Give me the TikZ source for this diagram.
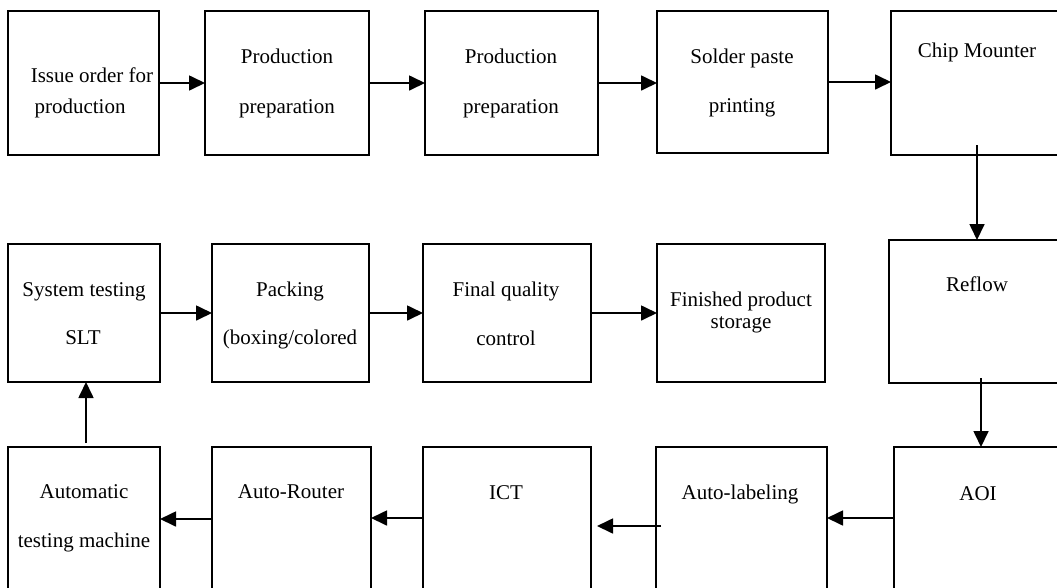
\documentclass[tikz,border=0pt]{standalone}
\usepackage{fontspec}
\setmainfont{Liberation Serif}
\usetikzlibrary{arrows.meta}
\tikzset{
  box/.style={draw=black, line width=1.7pt, rectangle, inner sep=0pt, outer sep=0pt},
  lbl/.style={anchor=base, inner sep=0pt, font=\fontsize{21}{25}\selectfont},
  arr/.style={line width=1.7pt, -{Triangle[length=16pt,width=15pt]}},
}
\begin{document}
\begin{tikzpicture}[x=1pt,y=-1pt]
\useasboundingbox (0,0) rectangle (1057,587);
\clip (0,0) rectangle (1057,587);
\fill[white] (0,0) rectangle (1057,587);
% row 1
\node[box, minimum width=151, minimum height=144] (b1) at (83.5,83) {};
\node[box, minimum width=164, minimum height=144] (b2) at (287,83) {};
\node[box, minimum width=173, minimum height=144] (b3) at (511.5,83) {};
\node[box, minimum width=171, minimum height=142] (b4) at (742.5,82) {};
\node[box, minimum width=179, minimum height=144] (b5) at (980.5,83) {};
% row 2
\node[box, minimum width=152, minimum height=138] (c1) at (84,313) {};
\node[box, minimum width=157, minimum height=138] (c2) at (290.5,313) {};
\node[box, minimum width=168, minimum height=138] (c3) at (507,313) {};
\node[box, minimum width=168, minimum height=138] (c4) at (741,313) {};
\node[box, minimum width=181, minimum height=143] (c5) at (979.5,311.5) {};
% row 3
\node[box, minimum width=152, minimum height=163] (d1) at (84,528.5) {};
\node[box, minimum width=159, minimum height=163] (d2) at (291.5,528.5) {};
\node[box, minimum width=168, minimum height=163] (d3) at (507,528.5) {};
\node[box, minimum width=171, minimum height=163] (d4) at (741.5,528.5) {};
\node[box, minimum width=176, minimum height=163] (d5) at (982,528.5) {};
% labels
\node[lbl] (t1a) at (92,82) {Issue order for};
\node[lbl] (t1b) at (80,113) {production};
\node[lbl] (t2a) at (287,63) {Production};
\node[lbl] (t2b) at (287,113) {preparation};
\node[lbl] (t3a) at (511,63) {Production};
\node[lbl] (t3b) at (511,113) {preparation};
\node[lbl] (t4a) at (742,63) {Solder paste};
\node[lbl] (t4b) at (742,112) {printing};
\node[lbl] (t5a) at (977,57) {Chip Mounter};
\node[lbl] (u1a) at (84,296) {System testing};
\node[lbl] (u1b) at (83,344) {SLT};
\node[lbl] (u2a) at (290,296) {Packing};
\node[lbl] (u2b) at (290,344) {(boxing/colored};
\node[lbl] (u3a) at (506,296) {Final quality};
\node[lbl] (u3b) at (506,345) {control};
\node[lbl] (u4a) at (741,306) {Finished product};
\node[lbl] (u4b) at (741,328) {storage};
\node[lbl] (u5a) at (977,291) {Reflow};
\node[lbl] (v1a) at (84,498) {Automatic};
\node[lbl] (v1b) at (84,547) {testing machine};
\node[lbl] (v2a) at (291,498) {Auto-Router};
\node[lbl] (v3a) at (506,499) {ICT};
\node[lbl] (v4a) at (740,499) {Auto-labeling};
\node[lbl] (v5a) at (978,500) {AOI};
% connectors row 1
\draw[arr] (b1.east |- 0,83) -- (b2.west |- 0,83);
\draw[arr] (b2.east |- 0,83) -- (b3.west |- 0,83);
\draw[arr] (b3.east |- 0,83) -- (b4.west |- 0,83);
\draw[arr] (b4.east |- 0,82) -- (b5.west |- 0,82);
% down connectors
\coordinate (s5) at (977,145);
\draw[arr] (s5) -- (s5 |- c5.north);
\coordinate (s6) at (981,378);
\draw[arr] (s6) -- (s6 |- d5.north);
% row 3
\draw[arr] (d5.west |- 0,518) -- (d4.east |- 0,518);
\coordinate (s7) at (661,526);
\coordinate (e7) at (597,526);
\draw[arr] (s7) -- (e7);
\draw[arr] (d3.west |- 0,518) -- (d2.east |- 0,518);
\draw[arr] (d2.west |- 0,519) -- (d1.east |- 0,519);
% up connector
\coordinate (s8) at (86,443);
\draw[arr] (s8) -- (s8 |- c1.south);
% row 2
\draw[arr] (c1.east |- 0,313) -- (c2.west |- 0,313);
\draw[arr] (c2.east |- 0,313) -- (c3.west |- 0,313);
\draw[arr] (c3.east |- 0,313) -- (c4.west |- 0,313);
\end{tikzpicture}
\end{document}
